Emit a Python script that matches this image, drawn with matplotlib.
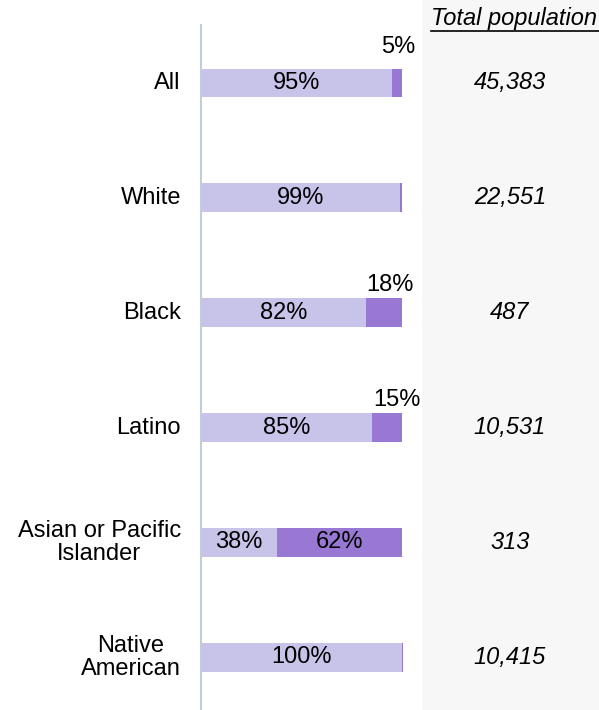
import matplotlib.pyplot as plt
from matplotlib.patches import Rectangle

plt.rcParams['font.family'] = ['Liberation Sans', 'DejaVu Sans']

groups = ["All", "White", "Black", "Latino", "Asian or Pacific\nIslander", "Native\nAmerican"]
share_a = [95, 99, 82, 85, 38, 100]
share_b = [5, 1, 18, 15, 62, 0.4]
label_b = ["5%", "", "18%", "15%", "62%", ""]
population = ["45,383", "22,551", "487", "10,531", "313", "10,415"]

light = "#c8c3e9"
dark = "#9878d2"
fs = 17

fig = plt.figure(figsize=(5.99, 7.10), dpi=100)
W, H = 599, 710

# shaded panel behind the population column
fig.patches.append(Rectangle((422 / W, 0), 1 - 422 / W, 1, transform=fig.transFigure,
                             facecolor="#f7f7f7", edgecolor="none", zorder=0))

ax = fig.add_axes([201 / W, 0, 221 / W, 685 / H])
ax.patch.set_alpha(0)
ys = list(range(len(groups)))
ax.barh(ys, share_a, height=0.25, color=light)
ax.barh(ys, share_b, left=share_a, height=0.25, color=dark)
ax.set_xlim(0, 110)
ax.set_ylim(5.46, -0.505)

for s in ["top", "right", "bottom"]:
    ax.spines[s].set_visible(False)
ax.spines["left"].set_color("#c3cdd4")
ax.spines["left"].set_linewidth(1.5)
ax.set_xticks([])
ax.set_yticks([])

# small segment labels sit above the bar end
above = [0.31, 0, 0.24, 0.24, 0, 0]
right_edge = [106.5, 0, 106, 109.5, 0, 0]
for i, g in enumerate(groups):
    ax.text(-10, i, g, ha="right", va="center", fontsize=fs,
            multialignment="center", linespacing=1.05)
    ax.text(share_a[i] / 2, i, f"{share_a[i]}%", ha="center", va="center", fontsize=fs)
    if label_b[i]:
        if share_b[i] > 30:
            ax.text(share_a[i] + share_b[i] / 2, i, label_b[i], ha="center", va="center", fontsize=fs)
        else:
            ax.text(right_edge[i], i - above[i], label_b[i], ha="right", va="center", fontsize=fs)
    fig.text(510 / W, ax.transData.transform((0, i))[1] / H, population[i],
             ha="center", va="center", fontsize=fs, style="italic")

fig.text(431 / W, 1 - 19 / H, "Total population", ha="left", va="center",
         fontsize=fs, style="italic")
fig.add_artist(plt.Line2D([431 / W, 1], [1 - 30.5 / H, 1 - 30.5 / H], color="black", lw=1.2))

fig.savefig("out.png", dpi=100)
